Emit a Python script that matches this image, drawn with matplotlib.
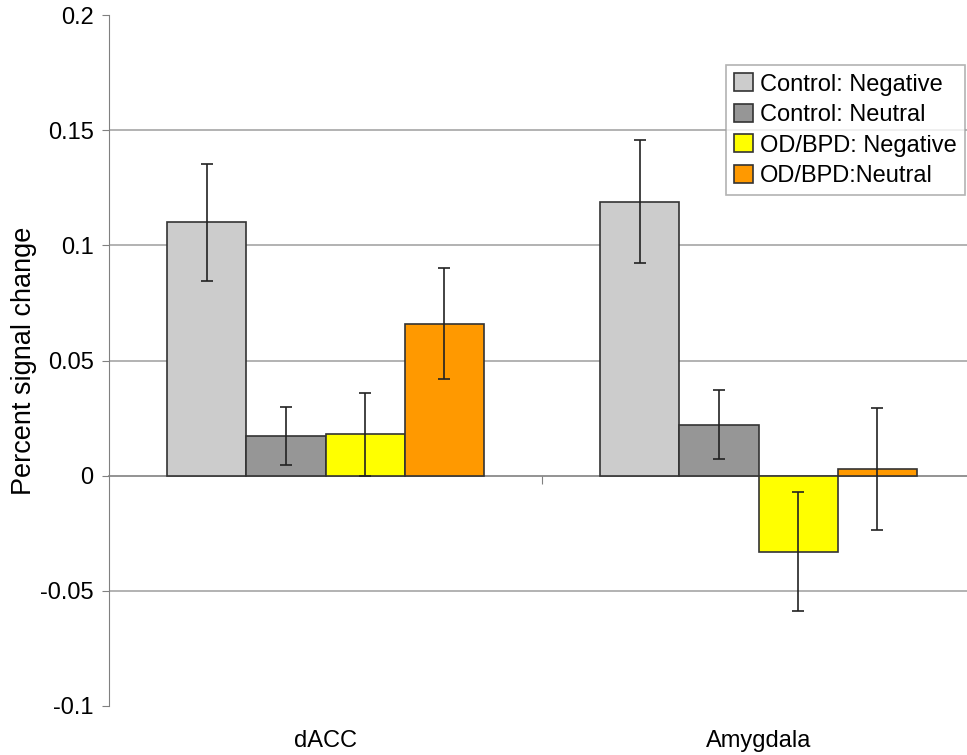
import matplotlib
matplotlib.use("Agg")
import matplotlib.pyplot as plt
import matplotlib.transforms as mtransforms
import numpy as np

plt.rcParams['font.family'] = ['Liberation Sans', 'DejaVu Sans']

# data
regions = ["dACC", "Amygdala"]
series = ["Control: Negative", "Control: Neutral", "OD/BPD: Negative", "OD/BPD:Neutral"]
colors = ["#cccccc", "#969696", "#ffff00", "#ff9900"]
values = [
    [0.110, 0.119],    # Control: Negative
    [0.0174, 0.0222],  # Control: Neutral
    [0.018, -0.033],   # OD/BPD: Negative
    [0.066, 0.003],    # OD/BPD:Neutral
]
errors = [
    [0.0255, 0.0268],
    [0.0126, 0.0150],
    [0.0180, 0.0258],
    [0.0240, 0.0265],
]
yticks = [-0.1, -0.05, 0, 0.05, 0.1, 0.15, 0.2]
ytick_labels = ["-0.1", "-0.05", "0", "0.05", "0.1", "0.15", "0.2"]

fig = plt.figure(figsize=(9.67, 7.55), dpi=100)
ax = fig.add_axes([109 / 967, 49 / 755, 866 / 967, 691 / 755])

x = np.arange(len(regions))
w = 0.1825
for i, (name, col) in enumerate(zip(series, colors)):
    pos = x + (i - 1.5) * w
    ax.bar(pos, values[i], width=w, color=col, edgecolor="#333333",
           linewidth=1.2, label=name, zorder=3)
    ax.errorbar(pos, values[i], yerr=errors[i], fmt="none", ecolor="#222222",
                elinewidth=1.2, capsize=4.5, capthick=1.2, zorder=4)

# grid lines, not at the limits
for t in yticks[1:-1]:
    if t != 0:
        ax.axhline(t, color="#a6a6a6", lw=1.2, zorder=1)

ax.set_xlim(-0.5, 1.5)
ax.set_ylim(-0.1, 0.2)
ax.set_yticks(yticks)
ax.set_yticklabels(ytick_labels, fontsize=17)
ax.tick_params(axis="y", direction="out", length=5, color="#808080", pad=6)

ax.spines["top"].set_visible(False)
ax.spines["right"].set_visible(False)
ax.spines["left"].set_color("#808080")
ax.spines["bottom"].set_position(("data", 0))
ax.spines["bottom"].set_color("#808080")
ax.spines["bottom"].set_linewidth(1.2)
ax.set_xticks([0.5])
ax.set_xticklabels([""])
ax.tick_params(axis="x", direction="out", length=6, color="#808080")

trans = mtransforms.blended_transform_factory(ax.transData, ax.transAxes)
for xi, name in zip(x, regions):
    ax.text(xi, -0.05, name, transform=trans, ha="center", va="center", fontsize=17)

ax.set_ylabel("Percent signal change", fontsize=19.5)
ax.yaxis.set_label_coords(-0.083, 0.5)

leg = ax.legend(loc="upper right", bbox_to_anchor=((965 - 109) / 866, 1 - 50 / 691),
                fontsize=17, frameon=True, fancybox=False, edgecolor="#a0a0a0",
                handlelength=0.8, handleheight=0.8, handletextpad=0.3,
                labelspacing=0.35, borderpad=0.35, borderaxespad=0)
leg.get_frame().set_linewidth(1.2)

fig.savefig("out.png", dpi=100)
